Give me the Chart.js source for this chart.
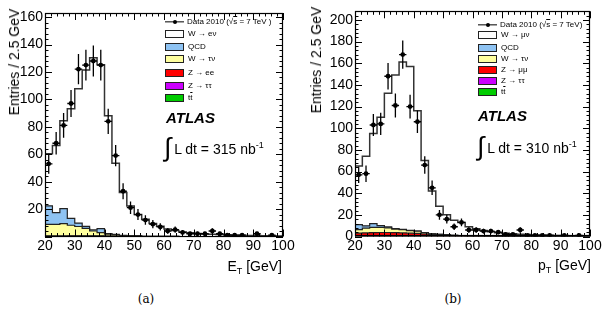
<!DOCTYPE html>
<html>
<head>
<meta charset="utf-8">
<script src="https://cdn.jsdelivr.net/npm/chart.js@4.4.0/dist/chart.umd.min.js"></script>
<style>
body{margin:0;background:#fff;width:603px;height:315px;position:relative;overflow:hidden;font-family:"Liberation Sans",Arial,sans-serif;color:#000;}
canvas{position:absolute;top:0;}
.t{position:absolute;white-space:nowrap;line-height:1;}
.ytitle{font-size:14px;transform:translate(-50%,-50%) rotate(-90deg);}
.xtitle{font-size:14px;}
.xtitle sub{font-size:9px;vertical-align:-3px;}
.leg{font-size:8px;transform:translateY(-50%);}
.box{position:absolute;height:8px;border:1px solid #222;box-sizing:border-box;transform:translateY(-50%);}
.atlas{font-size:15px;font-weight:bold;font-style:italic;transform:translateY(-50%);}
.lumi{font-size:14px;transform:translateY(-50%);}
.lumi .int{font-size:26px;position:relative;top:2px;margin-right:3px;}
.lumi sup{font-size:9px;vertical-align:6px;}
.cap{font-family:"DejaVu Serif","Liberation Serif",serif;font-size:12px;transform:translate(-50%,-50%);}
.ol{text-decoration:overline;}
</style>
</head>
<body>
<canvas id="chartA" width="300" height="260" style="left:0"></canvas>
<canvas id="chartB" width="303" height="260" style="left:300px"></canvas>

<div class="t ytitle" style="left:14px;top:62px">Entries / 2.5 GeV</div>
<div class="t ytitle" style="left:316px;top:60px">Entries / 2.5 GeV</div>
<div class="t xtitle" style="right:321px;top:259px">E<sub>T</sub> [GeV]</div>
<div class="t xtitle" style="right:12px;top:258px">p<sub>T</sub> [GeV]</div>
<div class="t cap" style="left:146px;top:299px">(a)</div>
<div class="t cap" style="left:453px;top:299px">(b)</div>

<script>
// bin edges (2.5 GeV bins)
const binEdges = [20, 22.5, 25, 27.5, 30, 32.5, 35, 37.5, 40, 42.5, 45, 47.5, 50, 52.5, 55, 57.5,
  60, 62.5, 65, 67.5, 70, 72.5, 75, 77.5, 80, 82.5, 85, 87.5, 90, 92.5, 95, 97.5, 100];

// (a) electron channel, E_T
const dataA = [53, 68, 81, 97, 122, 125, 128, 125, 84, 59, 33, 21, 16, 12, 9, 7,
  4, 5, 3, 2, 2, 2, 4, 2, 1, 1, 1, 0, 2, 0, 1, 0];
const wenuA = [38, 49, 64, 80, 98, 114, 125.5, 119.5, 86, 52, 31.3, 21.6, 15.7, 12.3, 9.3, 7.4,
  5.4, 4.2, 3.3, 2.7, 2.2, 1.9, 1.6, 1.4, 1.2, 1.0, 0.9, 0.8, 0.7, 0.6, 0.5, 0.4];
const qcdA = [13.5, 8.5, 11, 5, 2.5, 1.5, 0.8, 3, 0.3, 0.2, 0.1, 0.1, 0, 0, 0, 0,
  0, 0, 0, 0, 0, 0, 0, 0, 0, 0, 0, 0, 0, 0, 0, 0];
const wtaunuA = [8.5, 8.5, 9, 7.7, 6.8, 5.5, 3.6, 2.4, 1.5, 1.0, 0.6, 0.4, 0.3, 0.2, 0.2, 0.1,
  0.1, 0.1, 0, 0, 0, 0, 0, 0, 0, 0, 0, 0, 0, 0, 0, 0];
const zllA = [0.3, 0.3, 0.3, 0.3, 0.3, 0.3, 0.3, 0.3, 0.2, 0.2, 0.1, 0.1, 0.1, 0, 0, 0,
  0, 0, 0, 0, 0, 0, 0, 0, 0, 0, 0, 0, 0, 0, 0, 0];
const ztautauA = [0.1, 0.1, 0.1, 0.1, 0.1, 0, 0, 0, 0, 0, 0, 0, 0, 0, 0, 0,
  0, 0, 0, 0, 0, 0, 0, 0, 0, 0, 0, 0, 0, 0, 0, 0];
const ttbarA = [0, 0, 0, 0.1, 0.1, 0.1, 0.1, 0.1, 0.1, 0.1, 0, 0, 0, 0, 0, 0,
  0, 0, 0, 0, 0, 0, 0, 0, 0, 0, 0, 0, 0, 0, 0, 0];

// (b) muon channel, p_T
const dataB = [57, 58, 103, 104, 148, 121, 168, 120, 106, 66, 45, 20, 16, 9, 13, 6,
  6, 5, 5, 4, 2, 2, 6, 1, 1, 1, 1, 0, 1, 0, 1, 0];
const wmunuB = [54.2, 64.2, 83.3, 100.2, 123.4, 141.9, 154.6, 151.4, 111.1, 66.4, 39.5, 26.1, 18.5, 13.9, 12.1, 8.4,
  6.6, 5.2, 4.2, 3.3, 2.8, 2.3, 2.0, 1.7, 1.4, 1.2, 1.0, 0.9, 0.9, 0.8, 0.7, 0.6];
const qcdB = [4.6, 2.1, 3.4, 1.5, 0.9, 0.3, 0.2, 0.2, 0.1, 0, 0, 0, 0, 0, 0, 0,
  0, 0, 0, 0, 0, 0, 0, 0, 0, 0, 0, 0, 0, 0, 0, 0];
const wtaunuB = [3.2, 4.5, 4.9, 4.8, 4.2, 3.4, 3.0, 2.4, 2.1, 1.3, 0.6, 0.4, 0.3, 0.2, 0.2, 0.1,
  0.1, 0, 0, 0, 0, 0, 0, 0, 0, 0, 0, 0, 0, 0, 0, 0];
const zllB = [3.0, 3.2, 3.4, 3.5, 3.5, 3.4, 3.2, 3.0, 2.7, 2.3, 1.9, 1.5, 1.2, 0.9, 0.7, 0.5,
  0.4, 0.3, 0.3, 0.2, 0.2, 0.2, 0.1, 0.1, 0.1, 0.1, 0.1, 0.1, 0, 0, 0, 0];
const ztautauB = [0.1, 0.1, 0.1, 0.1, 0.1, 0, 0, 0, 0, 0, 0, 0, 0, 0, 0, 0,
  0, 0, 0, 0, 0, 0, 0, 0, 0, 0, 0, 0, 0, 0, 0, 0];
const ttbarB = [0, 0, 0, 0.1, 0.1, 0.1, 0.1, 0.1, 0.1, 0.1, 0, 0, 0, 0, 0, 0,
  0, 0, 0, 0, 0, 0, 0, 0, 0, 0, 0, 0, 0, 0, 0, 0];

const colQCD = '#8ec3f3';
const colWtau = '#ffff9e';
const colZll = '#ff0000';
const colZtt = '#cc00ff';
const colTT = '#00cc00';

// running sums for the stacked histogram (bottom to top)
function addUp(a, b) { return a.map((v, i) => v + b[i]); }

// stepped points at the bin low edges, last value repeated at the upper edge
function steps(vals) {
  const pts = vals.map((v, i) => ({x: binEdges[i], y: v}));
  pts.push({x: binEdges[binEdges.length - 1], y: vals[vals.length - 1]});
  return pts;
}

function points(vals) {
  const pts = [];
  vals.forEach((v, i) => {
    if (v > 0) pts.push({x: (binEdges[i] + binEdges[i + 1]) / 2, y: v});
  });
  return pts;
}

const frameTicks = {
  id: 'frameTicks',
  afterDatasetsDraw(chart, args, opts) {
    const ctx = chart.ctx, a = chart.chartArea;
    const x = chart.scales.x, y = chart.scales.y;
    ctx.save();
    ctx.strokeStyle = '#000';
    // error bars of the data points
    const ds = chart.data.datasets[0];
    ctx.lineWidth = 1.3;
    ctx.beginPath();
    ds.data.forEach(p => {
      const e = Math.sqrt(p.y);
      const px = x.getPixelForValue(p.x);
      const py = y.getPixelForValue(p.y);
      ctx.moveTo(px, Math.min(y.getPixelForValue(p.y - e), a.bottom));
      ctx.lineTo(px, Math.max(y.getPixelForValue(p.y + e), a.top));
      ctx.moveTo(x.getPixelForValue(p.x - 1.25), py);
      ctx.lineTo(x.getPixelForValue(p.x + 1.25), py);
    });
    ctx.stroke();
    // frame
    ctx.lineWidth = 1.2;
    ctx.strokeRect(Math.round(a.left) + 0.5, Math.round(a.top) + 0.5,
      Math.round(a.right - a.left) - 1, Math.round(a.bottom - a.top) - 1);
    // tick marks inside the frame, all four sides
    ctx.lineWidth = 1;
    ctx.beginPath();
    for (let v = x.min; v <= x.max + 0.001; v += 2) {
      const px = Math.round(x.getPixelForValue(v)) + 0.5;
      const len = (v % 10 === 0) ? 7 : 3.5;
      ctx.moveTo(px, a.bottom); ctx.lineTo(px, a.bottom - len);
      ctx.moveTo(px, a.top); ctx.lineTo(px, a.top + len);
    }
    for (let v = 0; v <= y.max; v += opts.minor) {
      const py = Math.round(y.getPixelForValue(v)) + 0.5;
      const len = (v % 20 === 0) ? 7 : 3.5;
      ctx.moveTo(a.left, py); ctx.lineTo(a.left + len, py);
      ctx.moveTo(a.right, py); ctx.lineTo(a.right - len, py);
    }
    ctx.stroke();
    ctx.restore();
  }
};

function makeChart(id, d) {
  const c1 = d.tt;
  const c2 = addUp(c1, d.ztt);
  const c3 = addUp(c2, d.zll);
  const c4 = addUp(c3, d.wtau);
  const c5 = addUp(c4, d.qcd);
  const c6 = addUp(c5, d.sig);

  const band = (vals, col) => ({
    data: steps(vals),
    stepped: true,
    borderColor: '#222',
    borderWidth: 1.2,
    backgroundColor: col,
    fill: 'origin',
    pointRadius: 0
  });

  return new Chart(document.getElementById(id), {
    type: 'line',
    data: {
      datasets: [
        {
          data: points(d.data),
          showLine: false,
          pointRadius: 2.4,
          pointBackgroundColor: '#000',
          pointBorderColor: '#000',
          pointBorderWidth: 0
        },
        {
          data: steps(c6),
          stepped: true,
          borderColor: '#333',
          borderWidth: 1.5,
          fill: false,
          pointRadius: 0
        },
        band(c1, colTT),
        band(c2, colZtt),
        band(c3, colZll),
        band(c4, colWtau),
        band(c5, colQCD)
      ]
    },
    options: {
      responsive: false,
      devicePixelRatio: 1,
      animation: false,
      events: [],
      layout: {padding: d.pad},
      plugins: {
        legend: {display: false},
        tooltip: {enabled: false},
        frameTicks: {minor: 4}
      },
      scales: {
        x: {
          type: 'linear',
          min: 20,
          max: 100,
          grid: {display: false, drawTicks: false},
          border: {display: false},
          afterFit: s => { s.height = 20; },
          ticks: {
            stepSize: 10,
            padding: 1,
            color: '#000',
            font: {family: 'Liberation Sans', size: 14},
            maxRotation: 0,
            autoSkip: false,
            callback: v => v
          }
        },
        y: {
          min: 0,
          max: d.ymax,
          grid: {display: false, drawTicks: false},
          border: {display: false},
          afterFit: s => { s.width = d.yw; },
          ticks: {
            stepSize: 20,
            includeBounds: false,
            autoSkip: false,
            padding: 2,
            color: '#000',
            font: {family: 'Liberation Sans', size: 14},
            callback: v => (v % 20 === 0 && (v > 0 || d.showZero)) ? v : ''
          }
        }
      }
    },
    plugins: [frameTicks]
  });
}

makeChart('chartA', {
  data: dataA, sig: wenuA, qcd: qcdA, wtau: wtaunuA, zll: zllA, ztt: ztautauA, tt: ttbarA,
  ymax: 163, yw: 45, showZero: false,
  pad: {left: 0, right: 17, top: 13, bottom: 3.5}
});
makeChart('chartB', {
  data: dataB, sig: wmunuB, qcd: qcdB, wtau: wtaunuB, zll: zllB, ztt: ztautauB, tt: ttbarB,
  ymax: 208, yw: 55, showZero: true,
  pad: {left: 0, right: 13, top: 11.3, bottom: 3.5}
});

// legends and labels
function legend(x, rows, entries, dataText) {
  const body = document.body;
  const add = html => { body.insertAdjacentHTML('beforeend', html); };
  add(`<div style="position:absolute;left:${x}px;top:${rows[0]}px;width:19px;height:1.3px;background:#000;transform:translateY(-50%)"></div>`);
  add(`<div style="position:absolute;left:${x + 8}px;top:${rows[0] - 2}px;width:4px;height:4px;border-radius:2px;background:#000"></div>`);
  add(`<div class="t leg" style="left:${x + 22}px;top:${rows[0]}px">${dataText}</div>`);
  entries.forEach((e, i) => {
    add(`<div class="box" style="left:${x}px;top:${rows[i + 1]}px;width:19px;background:${e.col}"></div>`);
    add(`<div class="t leg" style="left:${x + 23}px;top:${rows[i + 1]}px">${e.label}</div>`);
  });
}

const sqrtS = '(&radic;<span class="ol">s</span> = 7 TeV';
legend(165, [21.7, 34, 46.7, 59.3, 72.7, 86, 98.3], [
  {label: 'W &rarr; e&nu;', col: '#fff'},
  {label: 'QCD', col: colQCD},
  {label: 'W &rarr; &tau;&nu;', col: colWtau},
  {label: 'Z &rarr; ee', col: colZll},
  {label: 'Z &rarr; &tau;&tau;', col: colZtt},
  {label: 't<span class="ol">t</span>', col: colTT}
], 'Data 2010 ' + sqrtS + ' )');
legend(478, [25, 35, 47.7, 59.3, 70, 80.7, 91.7], [
  {label: 'W &rarr; &mu;&nu;', col: '#fff'},
  {label: 'QCD', col: colQCD},
  {label: 'W &rarr; &tau;&nu;', col: colWtau},
  {label: 'Z &rarr; &mu;&mu;', col: colZll},
  {label: 'Z &rarr; &tau;&tau;', col: colZtt},
  {label: 't<span class="ol">t</span>', col: colTT}
], 'Data 2010 ' + sqrtS + ')');

document.body.insertAdjacentHTML('beforeend',
  '<div class="t atlas" style="left:166px;top:117px">ATLAS</div>' +
  '<div class="t lumi" style="left:164px;top:145px"><span class="int">&int;</span>L dt = 315 nb<sup>-1</sup></div>' +
  '<div class="t atlas" style="left:478px;top:115px">ATLAS</div>' +
  '<div class="t lumi" style="left:477px;top:144px"><span class="int">&int;</span>L dt = 310 nb<sup>-1</sup></div>');
</script>
</body>
</html>
